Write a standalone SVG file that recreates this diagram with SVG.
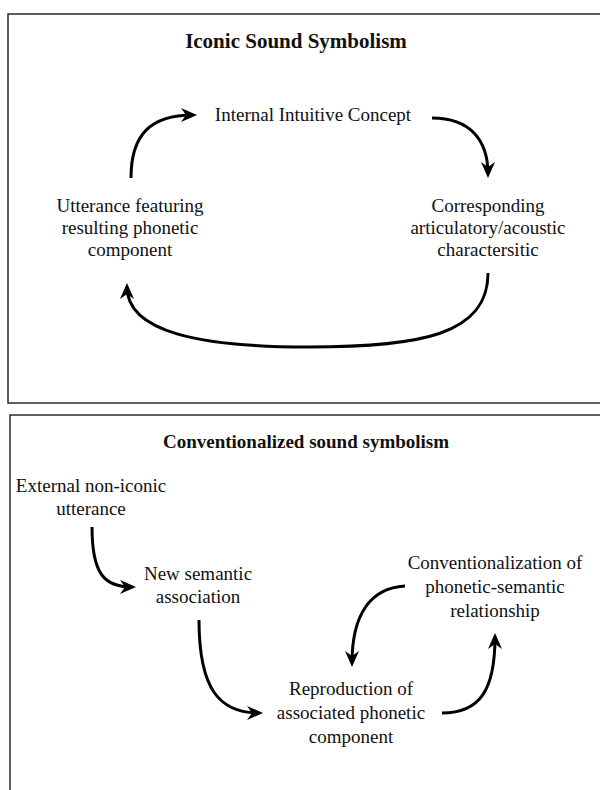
<svg xmlns="http://www.w3.org/2000/svg" width="600" height="790" viewBox="0 0 600 790">
<style>
.frame{fill:none;stroke:#2a2a2a;stroke-width:1.5}
text{font-family:'Liberation Serif','Times New Roman',Times,'DejaVu Serif',serif}
.t{font-size:19px;fill:#111;text-anchor:middle}
.h{font-weight:bold;fill:#111;text-anchor:middle}
.c{fill:none;stroke:#000;stroke-width:3}
</style>
<defs>
<marker id="ah" viewBox="0 0 16 14" refX="12" refY="7" markerWidth="16" markerHeight="14" markerUnits="userSpaceOnUse" orient="auto">
<path d="M0,0 L16,7 L0,14 L5,7 z" fill="#000"/>
</marker>
</defs>
<rect class="frame" x="8" y="14" width="600" height="389"/>
<path class="frame" d="M10,790 V415 H600"/>
<g id="title-iconic"><text class="h" x="296" y="48" font-size="21">Iconic Sound Symbolism</text></g>
<g id="title-conv"><text class="h" x="306" y="448" font-size="19">Conventionalized sound symbolism</text></g>
<g id="internal"><text class="t" x="313" y="121">Internal Intuitive Concept</text></g>
<g id="utterance"><text class="t" x="130" y="212">Utterance featuring</text><text class="t" x="130" y="234">resulting phonetic</text><text class="t" x="130" y="256">component</text></g>
<g id="corresponding"><text class="t" x="488" y="212">Corresponding</text><text class="t" x="488" y="234">articulatory/acoustic</text><text class="t" x="488" y="256">charactersitic</text></g>
<g id="external"><text class="t" x="91" y="492">External non-iconic</text><text class="t" x="91" y="515">utterance</text></g>
<g id="newsem"><text class="t" x="198" y="580">New semantic</text><text class="t" x="198" y="603">association</text></g>
<g id="conventionalization"><text class="t" x="495" y="569">Conventionalization of</text><text class="t" x="495" y="593">phonetic-semantic</text><text class="t" x="495" y="617">relationship</text></g>
<g id="reproduction"><text class="t" x="351" y="695">Reproduction of</text><text class="t" x="351" y="719">associated phonetic</text><text class="t" x="351" y="743">component</text></g>
<g id="connectors">
<path class="c" marker-end="url(#ah)" d="M131,178 C131,135 150,115 193,115"/>
<path class="c" marker-end="url(#ah)" d="M432,118 C470,118 488,140 488,174"/>
<path class="c" marker-end="url(#ah)" d="M488,273 C488,335 420,347 308,347 C200,347 127,332 127,287"/>
<path class="c" marker-end="url(#ah)" d="M92,527 C92,575 105,587 132,587"/>
<path class="c" marker-end="url(#ah)" d="M199,620 C199,690 220,713 259,713"/>
<path class="c" marker-end="url(#ah)" d="M405,586 C370,588 352,615 352,663"/>
<path class="c" marker-end="url(#ah)" d="M442,713 C480,713 495,690 495,637"/>
</g>
</svg>
